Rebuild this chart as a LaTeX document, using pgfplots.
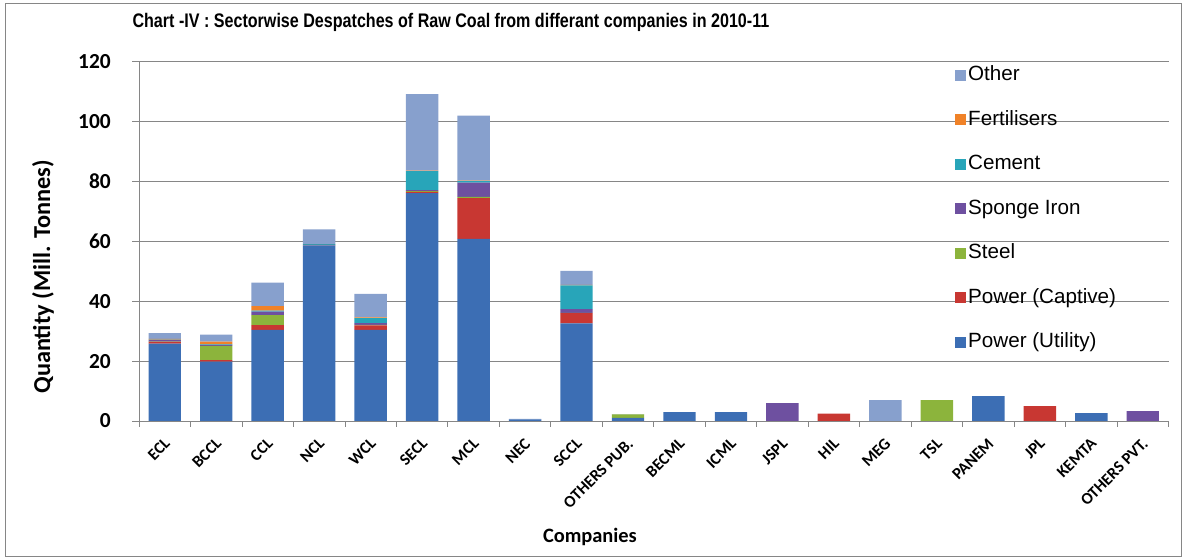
\documentclass[border=0pt]{standalone}
\usepackage{pgfplots}
\usepackage{pgfplotstable}
\pgfplotsset{compat=1.18}
\usepackage{fontspec}
\setmainfont{Carlito}
\newfontfamily\arialf{Liberation Sans}
\newfontfamily\narrowf[FakeStretch=0.82]{Liberation Sans}

\definecolor{util}{RGB}{60,110,180}
\definecolor{capt}{RGB}{200,55,50}
\definecolor{steel}{RGB}{140,180,60}
\definecolor{sponge}{RGB}{110,80,160}
\definecolor{cement}{RGB}{40,165,185}
\definecolor{fert}{RGB}{240,130,40}
\definecolor{other}{RGB}{135,160,205}
\definecolor{frame}{RGB}{134,134,134}

% despatches, million tonnes, 2010-11
\pgfplotstableread{
x  util  capt  steel sponge cement fert other
0  25.8  0.6   0.1   0.6    0.1    0.2  1.9
1  19.8  0.5   4.8   0.3    0.2    0.9  2.3
2  30.4  1.6   3.3   1.2    0.3    1.5  7.9
3  58.6  0.2   0     0      0.2    0    5.0
4  30.4  1.5   0.2   0.6    1.6    0.3  7.8
5  76.1  0.4   0.2   0.4    6.3    0.2  25.5
6  60.8  13.6  0.4   4.8    0.5    0.1  21.7
7  0.5   0     0     0      0      0    0.2
8  32.6  3.4   0.1   1.2    8.0    0.1  4.7
9  1.0   0     1.2   0      0      0    0.1
10 3.0   0     0     0      0      0    0
11 3.0   0     0     0      0      0    0
12 0     0     0     6.0    0      0    0
13 0     2.5   0     0      0      0    0
14 0     0     0     0      0      0    7.0
15 0     0     7.0   0      0      0    0
16 8.3   0     0     0      0      0    0
17 0     5.0   0     0      0      0    0
18 2.6   0     0     0      0      0    0
19 0     0     0     3.3    0      0    0
}\coal

\begin{document}
\begin{tikzpicture}[x=1bp,y=1bp]
\useasboundingbox (0,0) rectangle (1185,560);
\draw[frame, line width=0.8bp] (5,4) rectangle (1181,557);
\begin{axis}[
  at={(139bp,139bp)}, anchor=south west,
  scale only axis, width=1029.5bp, height=359.5bp,
  ybar stacked, bar width=32.4bp,
  xmin=-0.5, xmax=19.5, ymin=0, ymax=120,
  ytick={0,20,...,120},
  xtick={0,...,19},
  xticklabels={ECL,BCCL,CCL,NCL,WCL,SECL,MCL,NEC,SCCL,OTHERS PUB.,BECML,ICML,JSPL,HIL,MEG,TSL,PANEM,JPL,KEMTA,OTHERS PVT.},
  minor xtick={-0.5,0.5,...,19.5},
  axis x line*=bottom, axis y line*=left,
  axis line style={draw=frame, line width=0.8bp, -},
  tick align=outside, major tick length=7bp, minor tick length=6bp,
  tick style={draw=frame, line width=0.8bp},
  every major x tick/.append style={draw=none},
  ymajorgrids, grid style={draw=frame, line width=0.8bp},
  /pgf/number format/assume math mode=true,
  yticklabel style={font=\bfseries\fontsize{21.5}{22}\selectfont, inner sep=2bp, xshift=-19bp},
  xticklabel style={xshift=2.5bp, yshift=-13bp, rotate=45, anchor=east, inner sep=0pt,
    font=\bfseries\fontsize{16.5}{17}\selectfont},
  title={Chart -IV : Sectorwise Despatches of Raw Coal from differant companies in 2010-11},
  title style={at={(axis description cs:0.303,1.0932)}, anchor=center,
    font=\narrowf\bfseries\fontsize{19.7}{20}\selectfont},
  xlabel={Companies},
  xlabel style={at={(axis description cs:0.438,-0.3227)}, anchor=center,
    font=\bfseries\fontsize{20.5}{21}\selectfont},
  ylabel={Quantity (Mill. Tonnes)},
  ylabel style={at={(axis description cs:-0.0933,0.4006)}, anchor=center,
    font=\bfseries\fontsize{24.4}{25}\selectfont},
  legend style={at={(axis description cs:0.7926,0.989)}, anchor=north west,
    draw=none, fill=none, inner sep=0pt, row sep=25.5bp, column sep=2bp,
    font=\arialf\fontsize{20.7}{21}\selectfont,
    nodes={inner sep=0pt, text height=15bp, text depth=4bp}},
  legend cell align=left, reverse legend,
  legend image code/.code={\fill[#1] (0bp,-5.5bp) rectangle (11bp,5.5bp);},
]
\addplot[fill=util, draw=none] table[x=x, y=util] {\coal};
\addlegendentry{Power (Utility)}
\addplot[fill=capt, draw=none] table[x=x, y=capt] {\coal};
\addlegendentry{Power (Captive)}
\addplot[fill=steel, draw=none] table[x=x, y=steel] {\coal};
\addlegendentry{Steel}
\addplot[fill=sponge, draw=none] table[x=x, y=sponge] {\coal};
\addlegendentry{Sponge Iron}
\addplot[fill=cement, draw=none] table[x=x, y=cement] {\coal};
\addlegendentry{Cement}
\addplot[fill=fert, draw=none] table[x=x, y=fert] {\coal};
\addlegendentry{Fertilisers}
\addplot[fill=other, draw=none] table[x=x, y=other] {\coal};
\addlegendentry{Other}
\end{axis}
\end{tikzpicture}
\end{document}
